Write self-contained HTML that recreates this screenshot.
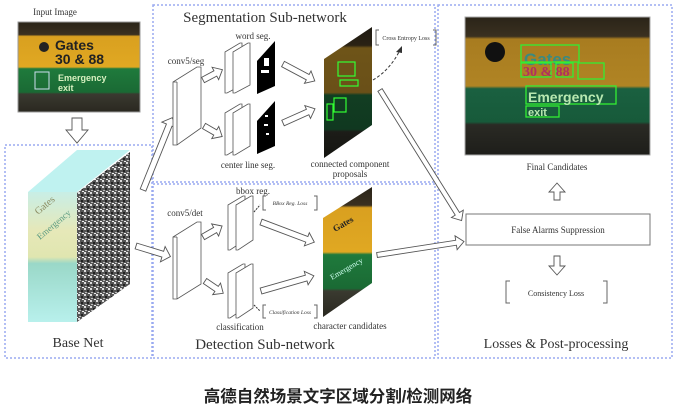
<!DOCTYPE html>
<html><head><meta charset="utf-8"><style>
html,body{margin:0;padding:0;background:#fff;width:676px;height:415px;overflow:hidden}
svg{display:block}
text{font-family:"Liberation Serif",serif;fill:#333}
</style></head><body>
<svg width="676" height="415" viewBox="0 0 676 415" xmlns="http://www.w3.org/2000/svg">
<defs>
<linearGradient id="sign" x1="0" y1="0" x2="0" y2="1">
<stop offset="0" stop-color="#2a2418"/><stop offset="0.14" stop-color="#3a3020"/>
<stop offset="0.16" stop-color="#d9a020"/><stop offset="0.5" stop-color="#e0a822"/>
<stop offset="0.52" stop-color="#1f7a3c"/><stop offset="0.78" stop-color="#1a6a34"/>
<stop offset="0.8" stop-color="#3a3a30"/><stop offset="1" stop-color="#2a2820"/>
</linearGradient>
<linearGradient id="signm" x1="0" y1="0" x2="0" y2="1">
<stop offset="0" stop-color="#2a2418"/><stop offset="0.14" stop-color="#3a3020"/>
<stop offset="0.16" stop-color="#a87c20"/><stop offset="0.5" stop-color="#b08424"/>
<stop offset="0.52" stop-color="#1a6040"/><stop offset="0.76" stop-color="#175a3a"/>
<stop offset="0.78" stop-color="#2a2a24"/><stop offset="1" stop-color="#1e1e1a"/>
</linearGradient>
<linearGradient id="signd" x1="0" y1="0" x2="0" y2="1">
<stop offset="0" stop-color="#1e1a12"/><stop offset="0.14" stop-color="#2a2214"/>
<stop offset="0.16" stop-color="#6e5418"/><stop offset="0.5" stop-color="#6a5018"/>
<stop offset="0.52" stop-color="#123e22"/><stop offset="0.78" stop-color="#103820"/>
<stop offset="0.8" stop-color="#1c1c18"/><stop offset="1" stop-color="#141410"/>
</linearGradient>
<linearGradient id="cyan" x1="0" y1="0" x2="0" y2="1">
<stop offset="0" stop-color="#c8eee6"/><stop offset="0.3" stop-color="#e6e8b8"/>
<stop offset="0.5" stop-color="#e0e6b0"/><stop offset="0.55" stop-color="#9ad8c8"/>
<stop offset="1" stop-color="#b8f0ec"/>
</linearGradient>
<pattern id="noise" width="6" height="6" patternUnits="userSpaceOnUse">
<rect width="6" height="6" fill="#555"/><rect x="0" y="0" width="2" height="2" fill="#ddd"/><rect x="3" y="2" width="2" height="2" fill="#222"/><rect x="1" y="4" width="2" height="1" fill="#bbb"/><rect x="4" y="5" width="2" height="1" fill="#eee"/>
</pattern>
</defs>

<g fill="none" stroke="#9aaaf0" stroke-width="1.5" stroke-dasharray="2,2">
<rect x="5" y="145" width="147" height="213"/>
<rect x="153" y="5" width="282" height="177"/>
<rect x="153" y="184" width="282" height="174"/>
<rect x="438" y="5" width="234" height="353"/>
</g>

<text x="55" y="15" font-size="9" text-anchor="middle">Input Image</text>
<rect x="18" y="22" width="122" height="90" fill="url(#sign)" stroke="#999"/>
<text x="55" y="50" font-size="14" font-weight="bold" style="fill:#222;font-family:'Liberation Sans',sans-serif">Gates</text>
<text x="55" y="64" font-size="14" font-weight="bold" style="fill:#222;font-family:'Liberation Sans',sans-serif">30 &amp; 88</text>
<circle cx="44" cy="47" r="5" fill="#222"/>
<text x="58" y="81" font-size="9" font-weight="bold" style="fill:#d8f0c0;font-family:'Liberation Sans',sans-serif">Emergency</text>
<text x="58" y="91" font-size="9" font-weight="bold" style="fill:#d8f0c0;font-family:'Liberation Sans',sans-serif">exit</text>
<rect x="35" y="72" width="14" height="17" fill="none" stroke="#cde" stroke-width="1"/>

<polygon points="28,192 77,150 130,150 77,192" fill="#bff2f0"/>
<rect x="28" y="192" width="49" height="130" fill="url(#cyan)"/>
<text x="38" y="215" font-size="10" style="fill:#8a8a60" transform="rotate(-40 38 215)">Gates</text>
<text x="40" y="240" font-size="9" style="fill:#5a9a80" transform="rotate(-40 40 240)">Emergency</text>
<polygon points="77,193 130,152 130,284 77,322" fill="url(#noise)"/>
<text x="78" y="347" font-size="14" text-anchor="middle">Base Net</text>

<g fill="#fff" stroke="#555" stroke-width="0.9">
<polygon points="72,118 82,118 82,130 88,130 77,143 66,130 72,130"/>
<g transform="translate(143,190) rotate(-68)"><polygon points="0,-3 70,-3 70,-8 78,0 70,8 70,3 0,3"/></g>
<g transform="translate(136,246) rotate(17)"><polygon points="0,-3 28,-3 28,-8 36,0 28,8 28,3 0,3"/></g>
<g transform="translate(203,80) rotate(-28)"><polygon points="0,-3 14,-3 14,-7 22,0 14,7 14,3 0,3"/></g>
<g transform="translate(204,126) rotate(30)"><polygon points="0,-3 13,-3 13,-7 21,0 13,7 13,3 0,3"/></g>
<g transform="translate(283,64) rotate(28)"><polygon points="0,-3 28,-3 28,-7 36,0 28,7 28,3 0,3"/></g>
<g transform="translate(283,123) rotate(-24)"><polygon points="0,-3 27,-3 27,-7 35,0 27,7 27,3 0,3"/></g>
<g transform="translate(380,90) rotate(58)"><polygon points="0,-2.5 146,-2.5 146,-7 154,0 146,7 146,2.5 0,2.5"/></g>
<g transform="translate(377,255) rotate(-8.8)"><polygon points="0,-2.5 80,-2.5 80,-7 88,0 80,7 80,2.5 0,2.5"/></g>
<g transform="translate(203,237) rotate(-30)"><polygon points="0,-3 14,-3 14,-7 22,0 14,7 14,3 0,3"/></g>
<g transform="translate(205,281) rotate(34)"><polygon points="0,-3 14,-3 14,-7 22,0 14,7 14,3 0,3"/></g>
<g transform="translate(261,222) rotate(20.7)"><polygon points="0,-3 49,-3 49,-7 57,0 49,7 49,3 0,3"/></g>
<g transform="translate(261,291) rotate(-16)"><polygon points="0,-3 47,-3 47,-7 55,0 47,7 47,3 0,3"/></g>
<polygon points="554,200 560,200 560,192 565,192 557,183 549,192 554,192"/>
<polygon points="554,256 560,256 560,266 565,266 557,275 549,266 554,266"/>
</g>

<text x="265" y="22" font-size="15" text-anchor="middle">Segmentation Sub-network</text>
<text x="186" y="64" font-size="9" text-anchor="middle">conv5/seg</text>
<g fill="#fff" stroke="#555" stroke-width="0.8">
<polygon points="173,82 197,67 201,67 201,128 177,145 173,145"/>
<line x1="177" y1="82" x2="177" y2="145"/><line x1="173" y1="82" x2="177" y2="82"/>
<polygon points="225,52 240,43 242,43 242,85 227,93 225,93"/>
<polygon points="233,52 248,43 250,43 250,85 235,93 233,93"/>
<polygon points="225,113 240,104 242,104 242,146 227,155 225,155"/>
<polygon points="233,113 248,104 250,104 250,146 235,155 233,155"/>
</g>
<polygon points="257,61 275,41 275,86 257,94" fill="#000"/>
<rect x="264" y="58" width="5" height="8" fill="#fff"/><rect x="261" y="70" width="8" height="3" fill="#fff"/>
<polygon points="257,121 275,101 275,146 257,154" fill="#000"/>
<rect x="265" y="115" width="3" height="2" fill="#fff"/><rect x="264" y="124" width="4" height="2" fill="#fff"/><rect x="266" y="133" width="3" height="2" fill="#fff"/>
<text x="253" y="39" font-size="9" text-anchor="middle">word seg.</text>
<text x="248" y="168" font-size="9" text-anchor="middle">center line seg.</text>

<polygon points="324,59 372,27 372,125 324,158" fill="url(#signd)"/>
<g fill="none" stroke="#3f3" stroke-width="1.2">
<rect x="338" y="62" width="17" height="14"/><rect x="340" y="80" width="18" height="6"/><rect x="334" y="98" width="12" height="14"/><rect x="327" y="104" width="6" height="16"/>
</g>
<text x="350" y="167" font-size="9" text-anchor="middle">connected component</text>
<text x="350" y="177" font-size="9" text-anchor="middle">proposals</text>
<path d="M379,30 h-3 v15 h3 M433,30 h3 v15 h-3" fill="none" stroke="#666"/>
<text x="406" y="40" font-size="6" text-anchor="middle">Cross Entropy Loss</text>
<path d="M373,80 Q390,70 400,50" fill="none" stroke="#333" stroke-dasharray="3,2"/>
<polygon points="402,46 396,52 402,53" fill="#333"/>

<text x="185" y="216" font-size="9" text-anchor="middle">conv5/det</text>
<g fill="#fff" stroke="#555" stroke-width="0.8">
<polygon points="173,237 197,222 201,222 201,284 177,299 173,299"/>
<line x1="177" y1="237" x2="177" y2="299"/><line x1="173" y1="237" x2="177" y2="237"/>
<polygon points="228,205 243,196 245,196 245,240 230,250 228,250"/>
<polygon points="236,205 251,196 253,196 253,240 238,250 236,250"/>
<polygon points="228,273 243,264 245,264 245,308 230,318 228,318"/>
<polygon points="236,273 251,264 253,264 253,308 238,318 236,318"/>
</g>
<text x="253" y="194" font-size="9" text-anchor="middle">bbox reg.</text>
<path d="M266,196 h-3 v14 h3 M314,196 h3 v14 h-3" fill="none" stroke="#666"/>
<text x="290" y="205" font-size="5.5" font-style="italic" text-anchor="middle">BBox Reg. Loss</text>
<path d="M266,305 h-3 v13 h3 M314,305 h3 v13 h-3" fill="none" stroke="#666"/>
<text x="290" y="314" font-size="5.5" font-style="italic" text-anchor="middle">Classification Loss</text>
<path d="M254,212 L260,205 M254,305 L260,311" stroke="#333" stroke-dasharray="2,1"/>
<text x="240" y="330" font-size="9" text-anchor="middle">classification</text>
<polygon points="323,218 372,187 372,283 323,317" fill="url(#sign)"/>
<text x="335" y="232" font-size="9" font-weight="bold" style="fill:#222" transform="rotate(-30 335 232)">Gates</text>
<text x="332" y="280" font-size="8" style="fill:#cfe" transform="rotate(-30 332 280)">Emergency</text>
<text x="350" y="329" font-size="9" text-anchor="middle">character candidates</text>
<text x="265" y="349" font-size="15" text-anchor="middle">Detection Sub-network</text>

<rect x="465" y="17" width="185" height="138" fill="url(#signm)" stroke="#aaa"/>
<circle cx="495" cy="52" r="10" fill="#111"/>
<text x="524" y="65" font-size="17" font-weight="bold" style="fill:#3a8a80;font-family:'Liberation Sans',sans-serif">Gates</text>
<g fill="none" stroke="#3e3" stroke-width="1.3">
<rect x="521" y="45" width="58" height="17"/><rect x="521" y="63" width="30" height="14"/><rect x="556" y="63" width="17" height="14"/><rect x="578" y="63" width="26" height="16"/>
<rect x="526" y="86" width="90" height="18"/><rect x="526" y="106" width="33" height="11"/>
</g>
<text x="523" y="76" font-size="14" font-weight="bold" style="fill:#b03060">30 &amp; 88</text>
<text x="528" y="102" font-size="14" font-weight="bold" style="fill:#b8e8b0;font-family:'Liberation Sans',sans-serif">Emergency</text>
<text x="528" y="116" font-size="11" font-weight="bold" style="fill:#b8e8b0;font-family:'Liberation Sans',sans-serif">exit</text>
<text x="557" y="170" font-size="9" text-anchor="middle">Final Candidates</text>
<rect x="466" y="214" width="184" height="31" fill="#fff" stroke="#777"/>
<text x="558" y="233" font-size="9" text-anchor="middle">False Alarms Suppression</text>
<path d="M510,281 h-4 v22 h4 M603,281 h4 v22 h-4" fill="none" stroke="#666"/>
<text x="556" y="296" font-size="8" text-anchor="middle">Consistency Loss</text>
<text x="556" y="348" font-size="14" text-anchor="middle">Losses &amp; Post-processing</text>

<text x="338" y="402" font-size="16.5" font-weight="bold" text-anchor="middle" style="fill:#222;font-family:'Liberation Sans','Noto Sans CJK SC',sans-serif">高德自然场景文字区域分割/检测网络</text>
</svg>
</body></html>
